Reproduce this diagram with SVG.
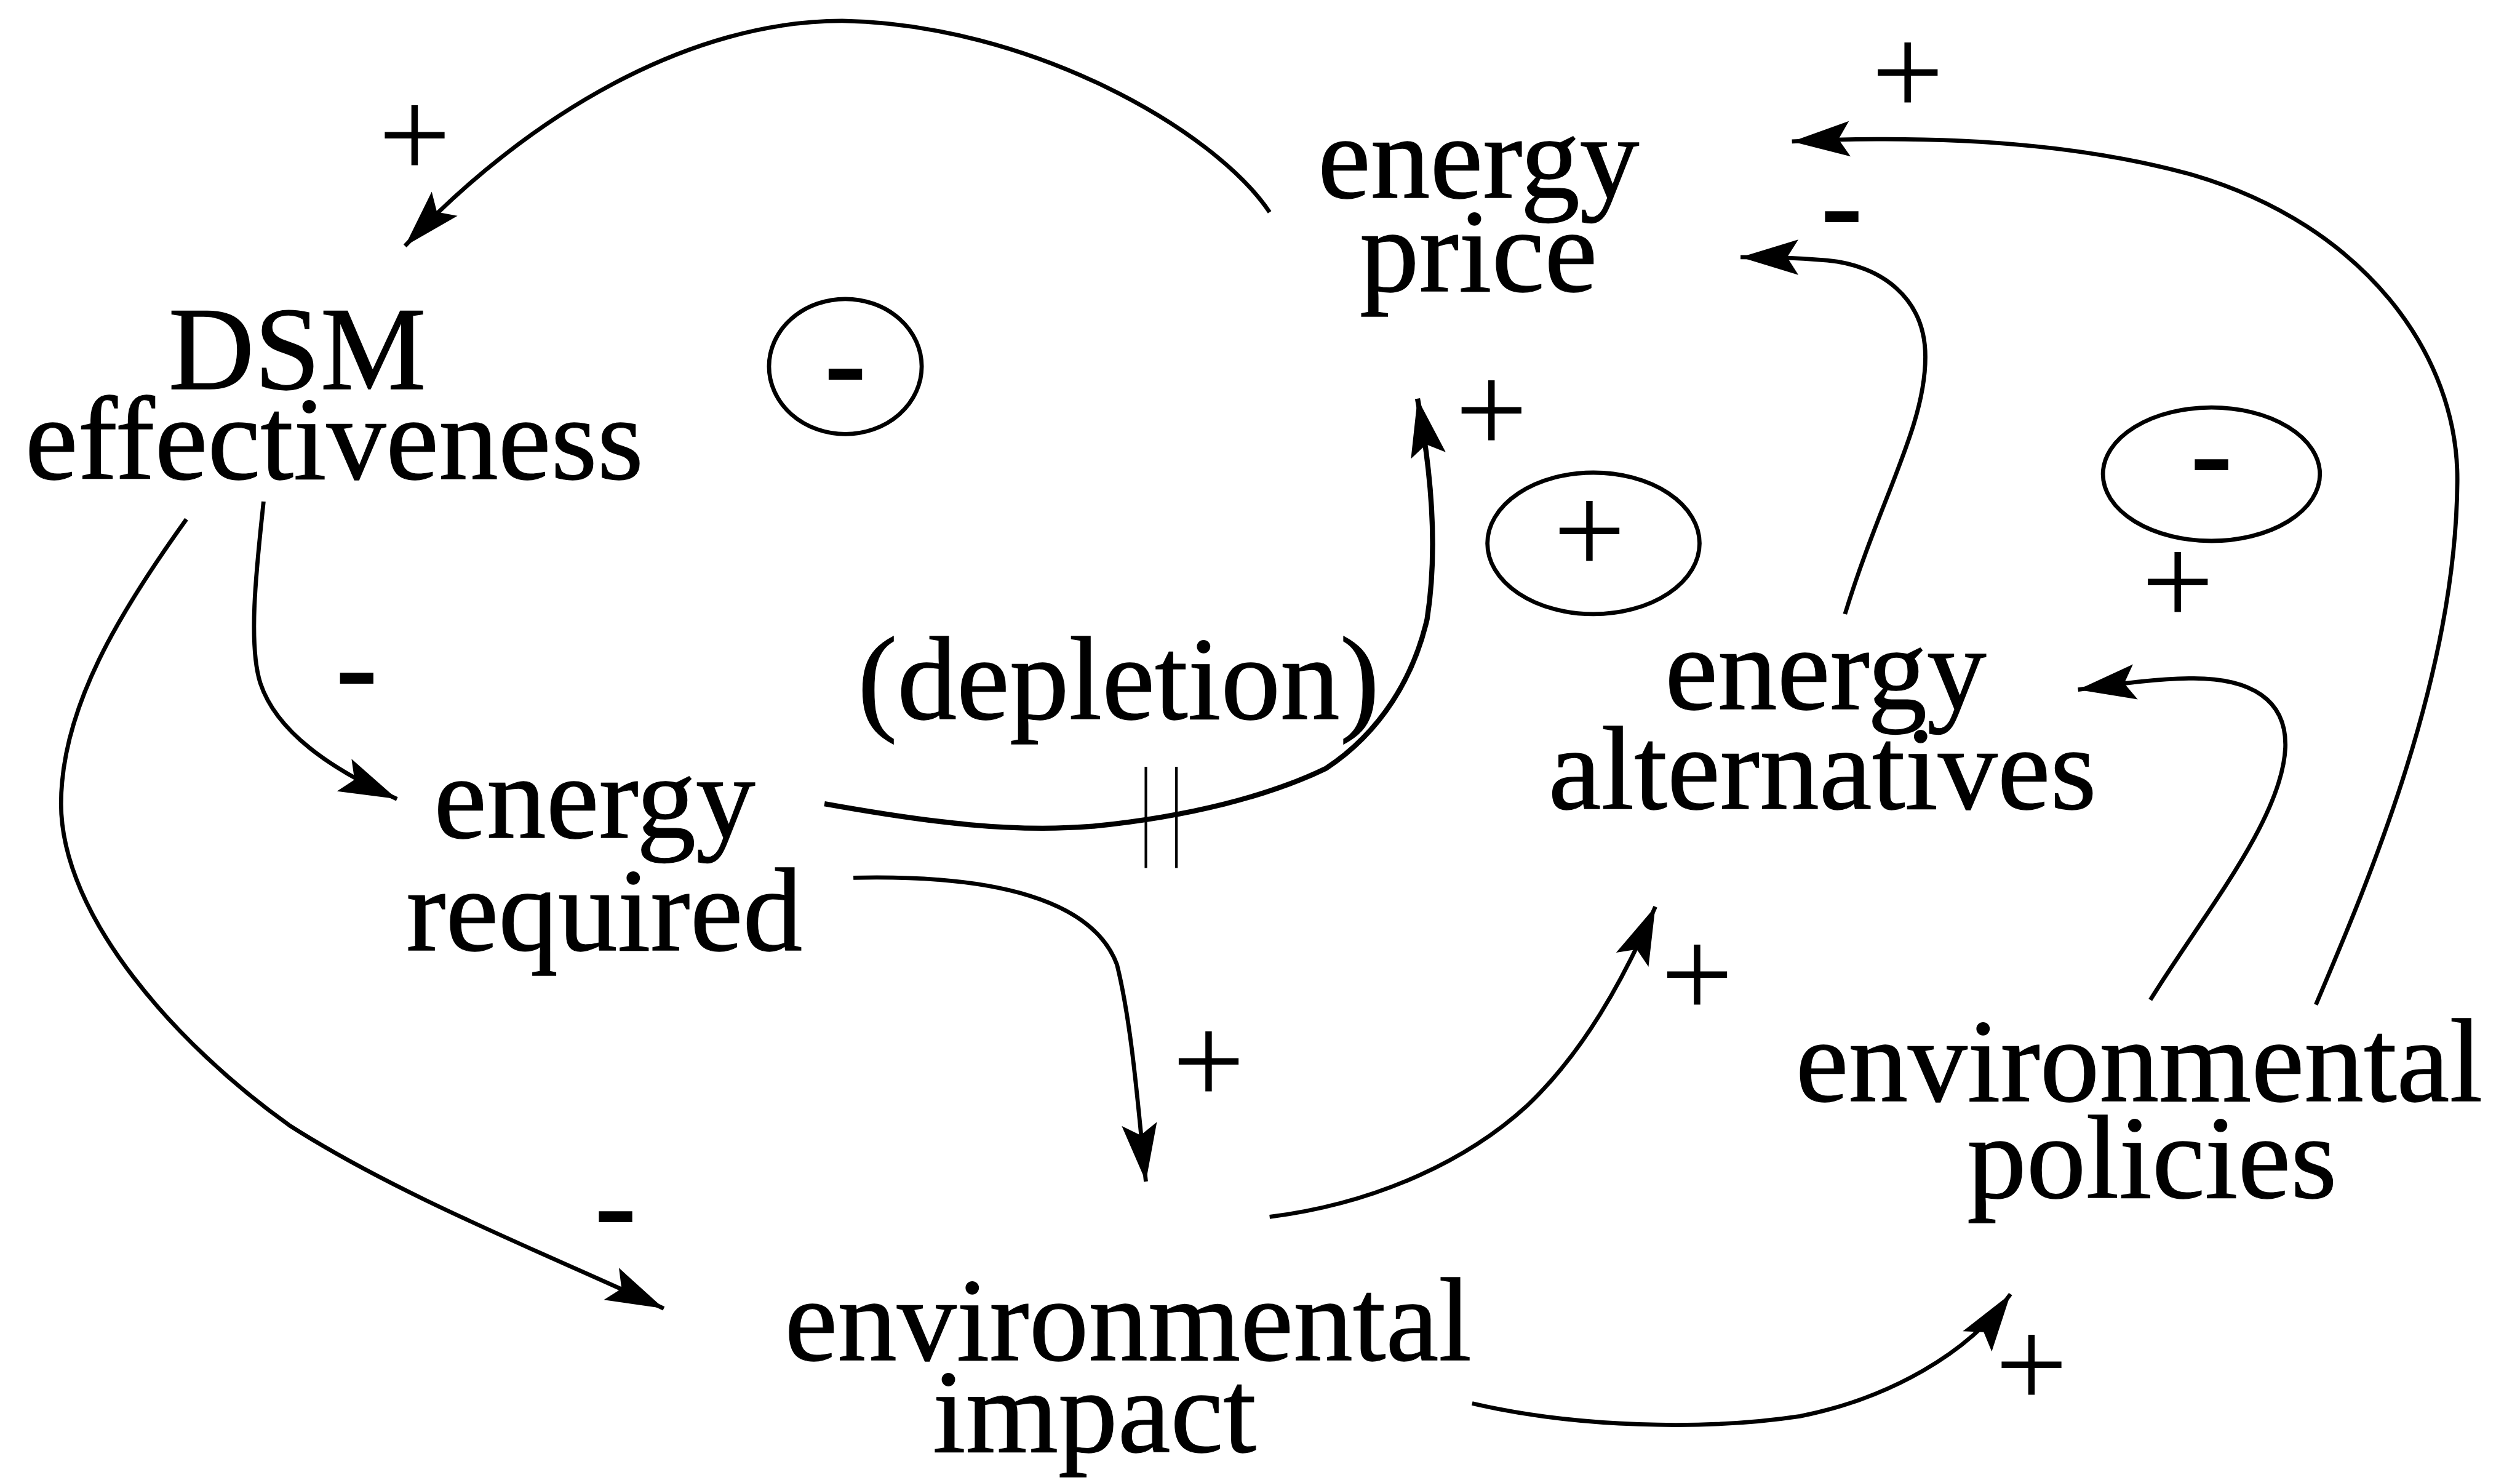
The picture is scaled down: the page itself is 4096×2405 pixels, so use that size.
<svg xmlns="http://www.w3.org/2000/svg" width="4096" height="2405" viewBox="0 0 4096 2405">
<style>
.t{font-family:"Liberation Serif","Times New Roman",serif;font-size:74px;fill:#000;stroke:#000;stroke-width:0.5;text-anchor:middle}
.p{font-family:"Liberation Serif","Times New Roman",serif;font-size:80px;fill:#000;text-anchor:middle}
.m{font-family:"Liberation Serif","Times New Roman",serif;font-size:80px;font-weight:bold;fill:#000;text-anchor:middle}
.c{fill:none;stroke:#000;stroke-width:2.6;marker-end:url(#ah)}
.d{fill:none;stroke:#000;stroke-width:1.6}
.l{fill:none;stroke:#000;stroke-width:2.6}
</style>
<defs>
<marker id="ah" markerUnits="userSpaceOnUse" orient="auto" refX="0" refY="0" markerWidth="40" markerHeight="26" viewBox="-38 -13 40 26" overflow="visible">
<path d="M0,0 L-36,-11 L-29,0 L-36,11 Z" fill="#000"/>
</marker>
</defs>
<rect width="4096" height="2405" fill="#fff"/>
<g transform="scale(2.61224)">
<g id="connectors">
<path class="c" d="M790,132 C755,80 640,15 524,13 C430,13 330,70 252,153"/>
<path class="c" d="M164,312 C160,350 154,400 162,425 C172,455 205,478 247,497"/>
<path class="c" d="M116,323 C75,380 38,440 38,500 C38,570 110,650 180,700 C250,745 345,782 413,814"/>
<path class="c" d="M513,500 C580,512 630,518 680,514 C740,508 790,495 825,478 C860,455 880,420 888,385 C895,340 890,290 882,248" style="stroke-width:3.2"/>
<path class="d" d="M713,477 L713,540 M732,477 L732,540"/>
<path class="c" d="M531,546 C620,544 680,560 695,600 C705,640 709,700 713,735"/>
<path class="c" d="M790,757 C860,748 915,720 950,688 C985,655 1010,610 1030,564"/>
<path class="c" d="M916,873 C980,888 1060,890 1120,881 C1175,870 1225,842 1251,805"/>
<path class="c" d="M1338,622 C1370,570 1420,510 1422,465 C1423,435 1400,422 1365,422 C1340,422 1315,426 1293,429"/>
<path class="c" d="M1148,382 C1170,310 1198,265 1198,222 C1198,185 1170,165 1137,162 C1115,160 1100,160 1083,160"/>
<path class="c" d="M1441,625 C1475,545 1528,420 1529,300 C1530,220 1470,140 1365,109 C1290,88 1200,84 1115,88"/>
</g>
<g id="link-signs">
<text class="p" x="258" y="111">+</text>
<text class="m" x="222" y="441">-</text>
<text class="p" x="1187" y="72">+</text>
<text class="m" x="1146" y="154">-</text>
<text class="p" x="928" y="282">+</text>
<text class="p" x="1355" y="389">+</text>
<text class="p" x="752" y="687">+</text>
<text class="m" x="383" y="776">-</text>
<text class="p" x="1056" y="633">+</text>
<text class="p" x="1264" y="876">+</text>
</g>
<g id="loop-balancing-left">
<ellipse class="l" cx="526" cy="228" rx="47.5" ry="42"/>
<text class="m" x="526" y="252">-</text>
</g>
<g id="loop-reinforcing">
<ellipse class="l" cx="991.5" cy="338" rx="66" ry="44"/>
<text class="p" x="989" y="357">+</text>
</g>
<g id="loop-balancing-right">
<ellipse class="l" cx="1376" cy="295" rx="67.5" ry="41.5"/>
<text class="m" x="1376" y="308">-</text>
</g>
<g id="energy-price">
<text class="t" x="920" y="123">energy</text>
<text class="t" x="920" y="181">price</text>
</g>
<g id="dsm-effectiveness">
<text class="t" x="185" y="242">DSM</text>
<text class="t" x="208" y="298">effectiveness</text>
</g>
<g id="energy-required">
<text class="t" x="370" y="521">energy</text>
<text class="t" x="376" y="591">required</text>
</g>
<g id="depletion">
<text class="t" x="696" y="447">(depletion)</text>
</g>
<g id="energy-alternatives">
<text class="t" x="1136" y="441">energy</text>
<text class="t" x="1134" y="503">alternatives</text>
</g>
<g id="environmental-impact">
<text class="t" x="702" y="846">environmental</text>
<text class="t" x="681" y="903">impact</text>
</g>
<g id="environmental-policies">
<text class="t" x="1331" y="685">environmental</text>
<text class="t" x="1339" y="745">policies</text>
</g>
</g>
</svg>
